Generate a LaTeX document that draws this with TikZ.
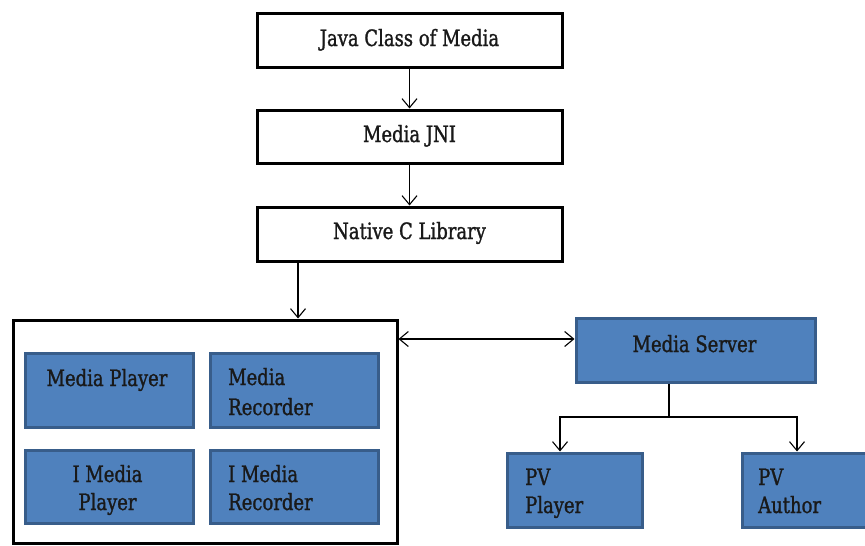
\documentclass[tikz,border=0pt]{standalone}
\usepackage{fontspec}
\setmainfont{DejaVu Serif}[FakeStretch=0.8,FakeBold=1.2]
\usetikzlibrary{arrows.meta}
\definecolor{boxblue}{RGB}{79,129,189}
\definecolor{boxedge}{RGB}{56,93,138}
\begin{document}
\begin{tikzpicture}[x=1pt,y=-1pt,
  wbox/.style={draw=black,line width=3pt,fill=white,rectangle,inner sep=0pt},
  bbox/.style={draw=boxedge,line width=3pt,fill=boxblue,rectangle,inner sep=0pt},
  txt/.style={inner sep=0pt,text=black!90,font=\fontsize{22.5}{30}\selectfont},
  conn/.style={line width=1.1pt,-{Straight Barb[length=9pt,width=15pt,line width=1.1pt]}},
  dconn/.style={line width=1.1pt,{Straight Barb[length=9pt,width=15pt,line width=1.1pt]}-{Straight Barb[length=9pt,width=15pt,line width=1.1pt]}},
  plain/.style={line width=1.1pt}]
\useasboundingbox (0,0) rectangle (865,546);
\fill[white] (0,0) rectangle (865,546);
% white boxes
\node[wbox,minimum width=305pt,minimum height=54pt] (java) at (409.5,40) {};
\node[wbox,minimum width=305pt,minimum height=53pt] (jni) at (409.5,136.5) {};
\node[wbox,minimum width=305pt,minimum height=54pt] (native) at (409.5,234) {};
\node[wbox,minimum width=384pt,minimum height=223pt] (big) at (205,431.5) {};
% blue boxes
\node[bbox,minimum width=168pt,minimum height=74pt] (mp) at (109,390) {};
\node[bbox,minimum width=168pt,minimum height=74pt] (mr) at (294,390) {};
\node[bbox,minimum width=168pt,minimum height=73pt] (imp) at (109,486.5) {};
\node[bbox,minimum width=168pt,minimum height=73pt] (imr) at (294,486.5) {};
\node[bbox,minimum width=239pt,minimum height=64pt] (ms) at (695.5,350) {};
\node[bbox,minimum width=135pt,minimum height=74pt] (pvp) at (574.5,490) {};
\node[bbox,minimum width=135pt,minimum height=74pt] (pva) at (809.5,490) {};
% texts
\node[txt,anchor=base] (tjava) at (409.5,46) {Java Class of Media};
\node[txt,anchor=base] (tjni) at (409.5,142) {Media JNI};
\node[txt,anchor=base] (tnative) at (409.5,239) {Native C Library};
\node[txt,anchor=base] (tmp) at (107,386) {Media Player};
\node[txt,anchor=base west] (tmr1) at (228,385) {Media};
\node[txt,anchor=base west] (tmr2) at (228,415) {Recorder};
\node[txt,anchor=base] (timp1) at (107.5,482) {I Media};
\node[txt,anchor=base] (timp2) at (107.5,510) {Player};
\node[txt,anchor=base west] (timr1) at (228,482) {I Media};
\node[txt,anchor=base west] (timr2) at (228,510) {Recorder};
\node[txt,anchor=base] (tms) at (694.5,352) {Media Server};
\node[txt,anchor=base west] (tpvp1) at (525,485) {PV};
\node[txt,anchor=base west] (tpvp2) at (525,513) {Player};
\node[txt,anchor=base west] (tpva1) at (758,485) {PV};
\node[txt,anchor=base west] (tpva2) at (758,513) {Author};
% connectors
\draw[conn] (java.south) -- (jni.north);
\draw[conn] (jni.south) -- (native.north);
\coordinate (nx) at (298,0);
\draw[conn] (native.south -| nx) -- (big.north -| nx);
\coordinate (dy) at (0,339);
\draw[dconn] (big.east |- dy) -- (ms.west |- dy);
\coordinate (sx) at (669,417);
\coordinate (px) at (560,417);
\coordinate (ax) at (797,417);
\draw[plain] (ms.south -| sx) -- (sx);
\draw[conn] (sx) -- (px) -- (pvp.north -| px);
\draw[conn] (sx) -- (ax) -- (pva.north -| ax);
\end{tikzpicture}
\end{document}
